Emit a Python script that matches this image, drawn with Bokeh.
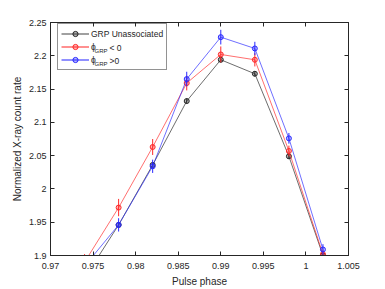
from bokeh.plotting import figure
from bokeh.models import (ColumnDataSource, Legend, LegendItem, LinearAxis, FixedTicker,
                          CustomJSTickFormatter, Range1d, Label, BoxAnnotation)
from bokeh.embed import file_html
from bokeh.resources import INLINE

# ---- data ----
phase = [0.974, 0.978, 0.982, 0.986, 0.990, 0.994, 0.998, 1.002]
unassoc = [1.866, 1.946, 2.036, 2.132, 2.194, 2.173, 2.049, 1.900]
unassoc_err = [0.004, 0.004, 0.004, 0.004, 0.004, 0.004, 0.004, 0.003]
neg = [1.890, 1.972, 2.063, 2.159, 2.202, 2.194, 2.057, 1.902]
neg_err = [0.012, 0.013, 0.012, 0.011, 0.012, 0.010, 0.008, 0.006]
pos = [1.884, 1.946, 2.034, 2.165, 2.228, 2.211, 2.076, 1.909]
pos_err = [0.012, 0.010, 0.010, 0.011, 0.011, 0.010, 0.008, 0.008]

x_ticks = [0.97, 0.975, 0.98, 0.985, 0.99, 0.995, 1.0, 1.005]
y_ticks = [1.9, 1.95, 2.0, 2.05, 2.1, 2.15, 2.2, 2.25]

FONT = "Liberation Sans"
AX = "#262626"

W, H = 385, 289
ML, MR, MT, MB = 50, 37, 22, 32

p = figure(width=W, height=H, output_backend="svg", toolbar_location=None,
           x_range=Range1d(0.97, 1.005), y_range=Range1d(1.9, 2.25),
           min_border_left=ML, min_border_right=MR, min_border_top=MT, min_border_bottom=MB)
p.xgrid.visible = False
p.ygrid.visible = False
p.outline_line_color = AX
p.outline_line_width = 0.8
p.background_fill_color = "white"
p.border_fill_color = "white"

fmt = CustomJSTickFormatter(code="return String(Math.round(tick*1000)/1000);")
blank = CustomJSTickFormatter(code="return '';")

for ax in p.xaxis + p.yaxis:
    ax.major_tick_in = 4
    ax.major_tick_out = 0
    ax.minor_tick_line_color = None
    ax.axis_line_color = AX
    ax.major_tick_line_color = AX
    ax.major_label_text_color = AX
    ax.major_label_text_font = FONT
    ax.major_label_text_font_size = "9px"
    ax.axis_label_text_font = FONT
    ax.axis_label_text_font_size = "10px"
    ax.axis_label_text_font_style = "normal"
    ax.axis_label_text_color = AX
    ax.formatter = fmt

p.xaxis.ticker = FixedTicker(ticks=x_ticks)
p.yaxis.ticker = FixedTicker(ticks=y_ticks)
p.xaxis.axis_label = "Pulse phase"
p.yaxis.axis_label = "Normalized X-ray count rate"
p.xaxis.major_label_standoff = 7
p.xaxis.axis_label_standoff = 4
p.yaxis.major_label_standoff = 4
p.yaxis.axis_label_standoff = 3

top_ax = LinearAxis(ticker=FixedTicker(ticks=x_ticks), formatter=blank,
                    major_tick_in=4, major_tick_out=0, minor_tick_line_color=None,
                    axis_line_color=AX, major_tick_line_color=AX, major_label_standoff=0)
right_ax = LinearAxis(ticker=FixedTicker(ticks=y_ticks), formatter=blank,
                      major_tick_in=4, major_tick_out=0, minor_tick_line_color=None,
                      axis_line_color=AX, major_tick_line_color=AX, major_label_standoff=0)
p.add_layout(top_ax, "above")
p.add_layout(right_ax, "right")

series = [
    (unassoc, unassoc_err, "#262626", "#a0a0a0"),
    (neg, neg_err, "#ff2a2a", "#ff9090"),
    (pos, pos_err, "#2a2aff", "#9090ff"),
]

frame_h = H - MT - MB
leg_h = 45
leg_left = 7
leg_top = frame_h - 5

# white background of the legend box (drawn beneath the series)
p.add_layout(BoxAnnotation(left=leg_left, right=leg_left + 106, top=leg_top, bottom=leg_top - leg_h,
                           left_units="screen", right_units="screen",
                           top_units="screen", bottom_units="screen",
                           fill_color="white", fill_alpha=1, line_color=None, level="underlay"))

nan = float("nan")
legend_renderers = []
for ys, es, col, light in series:
    src = ColumnDataSource(dict(x=phase, y=ys,
                                lo=[y - e for y, e in zip(ys, es)],
                                hi=[y + e for y, e in zip(ys, es)]))
    p.line("x", "y", source=src, line_color=col, line_width=0.8, line_alpha=0.85)
    p.segment(x0="x", y0="lo", x1="x", y1="hi", source=src, line_color=col, line_width=1.0)
    p.scatter("x", "y", source=src, marker="circle", size=5, line_color=col,
              fill_color=col, fill_alpha=0.35, line_width=1.0)
    dummy = ColumnDataSource(dict(x=[nan, nan], y=[nan, nan]))
    lr = p.line("x", "y", source=dummy, line_color=light, line_width=2)
    ls = p.scatter("x", "y", source=dummy, marker="circle", size=5, line_color=col,
                   fill_color=col, fill_alpha=0.35)
    legend_renderers.append([lr, ls])

legend = Legend(items=[LegendItem(label="GRP Unassociated", renderers=legend_renderers[0]),
                       LegendItem(label="\u03d5", renderers=legend_renderers[1]),
                       LegendItem(label="\u03d5", renderers=legend_renderers[2])],
                location=(leg_left, leg_top - leg_h), orientation="vertical",
                padding=3, spacing=0, margin=0, glyph_height=13, label_height=13,
                glyph_width=28, label_standoff=2,
                label_text_font=FONT, label_text_font_size="8.5px", label_text_color=AX,
                border_line_color=AX, border_line_width=0.8,
                background_fill_alpha=0)
p.add_layout(legend, "center")

row2 = leg_top - 3 - 13 - 6.5
row3 = row2 - 13
for yc, txt in [(row2, "< 0"), (row3, ">0")]:
    p.add_layout(Label(x=44, y=yc - 3, x_units="screen", y_units="screen", text="GRP",
                       text_font=FONT, text_font_size="6px", text_color=AX,
                       text_baseline="middle"))
    p.add_layout(Label(x=59, y=yc, x_units="screen", y_units="screen", text=txt,
                       text_font=FONT, text_font_size="8.5px", text_color=AX,
                       text_baseline="middle"))

open("out.html", "w").write(file_html(p, INLINE))
